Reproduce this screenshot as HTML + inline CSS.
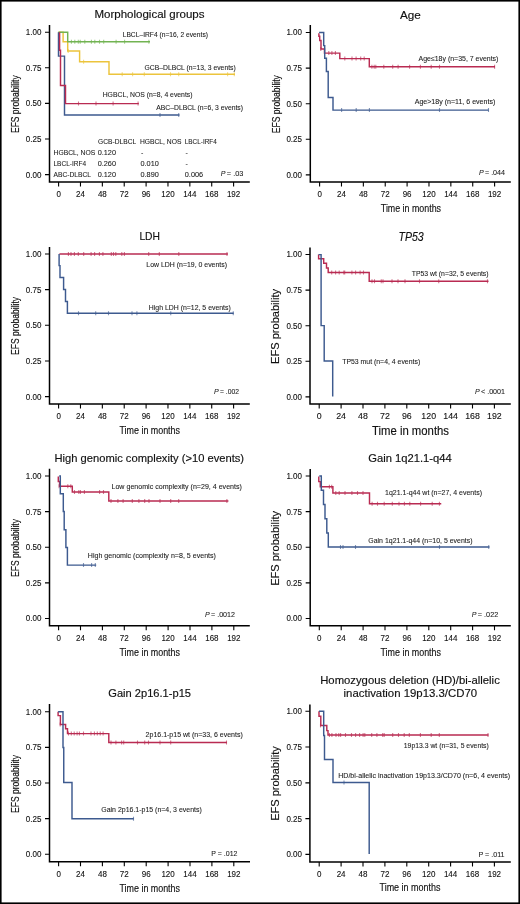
<!DOCTYPE html>
<html><head><meta charset="utf-8"><title>EFS curves</title>
<style>
html,body{margin:0;padding:0;background:#fff;}
body{width:520px;height:904px;overflow:hidden;}
svg{display:block;font-family:"Liberation Sans", sans-serif;will-change:transform;}
text{fill:#222;}
.t{fill:#111;stroke:#111;stroke-width:0.15px;}
.n{fill:#111;stroke:#111;stroke-width:0.12px;}
.l{fill:#1a1a1a;stroke:#1a1a1a;stroke-width:0.08px;}
</style></head>
<body>
<svg width="520" height="904" viewBox="0 0 520 904">
<rect x="0" y="0" width="520" height="904" fill="#fff"/>
<path d="M49.50 25.00V182.75M48.75 182.00H249.80" fill="none" stroke="#000" stroke-width="1.5"/>
<text x="41.40" y="35.10" font-size="9.5" text-anchor="end" textLength="15.60" lengthAdjust="spacingAndGlyphs" class="n">1.00</text>
<text x="41.40" y="70.70" font-size="9.5" text-anchor="end" textLength="15.60" lengthAdjust="spacingAndGlyphs" class="n">0.75</text>
<text x="41.40" y="106.30" font-size="9.5" text-anchor="end" textLength="15.60" lengthAdjust="spacingAndGlyphs" class="n">0.50</text>
<text x="41.40" y="141.90" font-size="9.5" text-anchor="end" textLength="15.60" lengthAdjust="spacingAndGlyphs" class="n">0.25</text>
<text x="41.40" y="177.50" font-size="9.5" text-anchor="end" textLength="15.60" lengthAdjust="spacingAndGlyphs" class="n">0.00</text>
<text x="58.60" y="197.00" font-size="9.5" text-anchor="middle" textLength="4.45" lengthAdjust="spacingAndGlyphs" class="n">0</text>
<text x="80.47" y="197.00" font-size="9.5" text-anchor="middle" textLength="8.90" lengthAdjust="spacingAndGlyphs" class="n">24</text>
<text x="102.35" y="197.00" font-size="9.5" text-anchor="middle" textLength="8.90" lengthAdjust="spacingAndGlyphs" class="n">48</text>
<text x="124.22" y="197.00" font-size="9.5" text-anchor="middle" textLength="8.90" lengthAdjust="spacingAndGlyphs" class="n">72</text>
<text x="146.10" y="197.00" font-size="9.5" text-anchor="middle" textLength="8.90" lengthAdjust="spacingAndGlyphs" class="n">96</text>
<text x="167.97" y="197.00" font-size="9.5" text-anchor="middle" textLength="13.35" lengthAdjust="spacingAndGlyphs" class="n">120</text>
<text x="189.85" y="197.00" font-size="9.5" text-anchor="middle" textLength="13.35" lengthAdjust="spacingAndGlyphs" class="n">144</text>
<text x="211.72" y="197.00" font-size="9.5" text-anchor="middle" textLength="13.35" lengthAdjust="spacingAndGlyphs" class="n">168</text>
<text x="233.60" y="197.00" font-size="9.5" text-anchor="middle" textLength="13.35" lengthAdjust="spacingAndGlyphs" class="n">192</text>
<path d="M45.00 32.20H49.50M45.00 67.80H49.50M45.00 103.40H49.50M45.00 139.00H49.50M45.00 174.60H49.50M58.60 182.00V186.50M80.47 182.00V186.50M102.35 182.00V186.50M124.22 182.00V186.50M146.10 182.00V186.50M167.97 182.00V186.50M189.85 182.00V186.50M211.72 182.00V186.50M233.60 182.00V186.50" fill="none" stroke="#000" stroke-width="1.1"/>
<text x="94.50" y="17.90" font-size="10.5" textLength="110.00" lengthAdjust="spacingAndGlyphs" class="t">Morphological groups</text>
<text transform="translate(19.00,104.20) rotate(-90)" x="0" y="0" font-size="11" text-anchor="middle" textLength="57.70" lengthAdjust="spacingAndGlyphs" class="t">EFS probability</text>
<path d="M58.50 32.20H63.10V41.80H67.70V50.90H79.60V61.80H109.00V74.30H235.00" fill="none" stroke="#ecc43c" stroke-width="1.45" stroke-linejoin="miter" stroke-linecap="butt"/>
<path d="M68.20 48.90v4.00" fill="none" stroke="#ecc43c" stroke-width="1.1" stroke-opacity="0.65"/>
<path d="M83.60 59.80v4.00" fill="none" stroke="#ecc43c" stroke-width="1.1" stroke-opacity="0.65"/>
<path d="M122.20 72.30v4.00 M132.60 72.30v4.00 M144.30 72.30v4.00 M170.50 72.30v4.00 M178.70 72.30v4.00 M227.60 72.30v4.00 M234.30 72.30v4.00" fill="none" stroke="#ecc43c" stroke-width="1.1" stroke-opacity="0.65"/>
<path d="M58.50 32.20H67.70V41.80H150.00" fill="none" stroke="#72b352" stroke-width="1.45" stroke-linejoin="miter" stroke-linecap="butt"/>
<path d="M71.40 39.80v4.00 M74.80 39.80v4.00 M78.30 39.80v4.00 M80.20 39.80v4.00 M84.80 39.80v4.00 M91.40 39.80v4.00 M94.80 39.80v4.00 M99.50 39.80v4.00 M103.70 39.80v4.00 M116.10 39.80v4.00 M124.60 39.80v4.00 M148.90 39.80v4.00" fill="none" stroke="#72b352" stroke-width="1.1" stroke-opacity="0.65"/>
<path d="M58.50 32.20V56.10H64.50V115.00H179.50" fill="none" stroke="#3d5a8f" stroke-width="1.45" stroke-linejoin="miter" stroke-linecap="butt"/>
<path d="M160.00 113.00v4.00 M178.75 113.00v4.00" fill="none" stroke="#3d5a8f" stroke-width="1.1" stroke-opacity="0.65"/>
<path d="M59.60 32.20V50.30H60.50V85.40H65.50V103.60H138.80" fill="none" stroke="#b92b52" stroke-width="1.45" stroke-linejoin="miter" stroke-linecap="butt"/>
<path d="M78.50 101.60v4.00 M96.00 101.60v4.00 M113.10 101.60v4.00 M138.10 101.60v4.00" fill="none" stroke="#b92b52" stroke-width="1.1" stroke-opacity="0.65"/>
<text x="122.70" y="37.10" font-size="7" textLength="85.30" lengthAdjust="spacingAndGlyphs" class="l">LBCL–IRF4 (n=16, 2 events)</text>
<text x="144.50" y="70.00" font-size="7" textLength="91.20" lengthAdjust="spacingAndGlyphs" class="l">GCB–DLBCL (n=13, 3 events)</text>
<text x="102.70" y="97.00" font-size="7" textLength="89.80" lengthAdjust="spacingAndGlyphs" class="l">HGBCL, NOS (n=8, 4 events)</text>
<text x="156.30" y="110.00" font-size="7" textLength="86.70" lengthAdjust="spacingAndGlyphs" class="l">ABC–DLBCL (n=6, 3 events)</text>
<text x="98.10" y="143.50" font-size="7" textLength="38.10" lengthAdjust="spacingAndGlyphs" class="l">GCB-DLBCL</text>
<text x="139.90" y="143.50" font-size="7" textLength="41.50" lengthAdjust="spacingAndGlyphs" class="l">HGBCL, NOS</text>
<text x="184.80" y="143.50" font-size="7" textLength="32.00" lengthAdjust="spacingAndGlyphs" class="l">LBCL-IRF4</text>
<text x="53.50" y="154.80" font-size="7" textLength="41.70" lengthAdjust="spacingAndGlyphs" class="l">HGBCL, NOS</text>
<text x="97.70" y="154.80" font-size="7" textLength="18.30" lengthAdjust="spacingAndGlyphs" class="l">0.120</text>
<text x="141.10" y="154.80" font-size="7" class="l">-</text>
<text x="185.40" y="154.80" font-size="7" class="l">-</text>
<text x="53.50" y="166.10" font-size="7" textLength="32.50" lengthAdjust="spacingAndGlyphs" class="l">LBCL-IRF4</text>
<text x="97.70" y="166.10" font-size="7" textLength="18.30" lengthAdjust="spacingAndGlyphs" class="l">0.260</text>
<text x="140.50" y="166.10" font-size="7" textLength="18.30" lengthAdjust="spacingAndGlyphs" class="l">0.010</text>
<text x="185.40" y="166.10" font-size="7" class="l">-</text>
<text x="53.50" y="177.40" font-size="7" textLength="37.50" lengthAdjust="spacingAndGlyphs" class="l">ABC-DLBCL</text>
<text x="97.70" y="177.40" font-size="7" textLength="18.30" lengthAdjust="spacingAndGlyphs" class="l">0.120</text>
<text x="140.50" y="177.40" font-size="7" textLength="18.30" lengthAdjust="spacingAndGlyphs" class="l">0.890</text>
<text x="184.80" y="177.40" font-size="7" textLength="18.30" lengthAdjust="spacingAndGlyphs" class="l">0.006</text>
<text x="220.80" y="175.60" font-size="7" font-style="italic" class="l">P</text>
<text x="226.80" y="175.60" font-size="7" textLength="16.60" lengthAdjust="spacingAndGlyphs" class="l">= .03</text>
<path d="M310.30 25.00V182.75M309.55 182.00H510.80" fill="none" stroke="#000" stroke-width="1.5"/>
<text x="302.00" y="35.40" font-size="9.5" text-anchor="end" textLength="15.60" lengthAdjust="spacingAndGlyphs" class="n">1.00</text>
<text x="302.00" y="71.00" font-size="9.5" text-anchor="end" textLength="15.60" lengthAdjust="spacingAndGlyphs" class="n">0.75</text>
<text x="302.00" y="106.60" font-size="9.5" text-anchor="end" textLength="15.60" lengthAdjust="spacingAndGlyphs" class="n">0.50</text>
<text x="302.00" y="142.20" font-size="9.5" text-anchor="end" textLength="15.60" lengthAdjust="spacingAndGlyphs" class="n">0.25</text>
<text x="302.00" y="177.80" font-size="9.5" text-anchor="end" textLength="15.60" lengthAdjust="spacingAndGlyphs" class="n">0.00</text>
<text x="319.60" y="197.00" font-size="9.5" text-anchor="middle" textLength="4.45" lengthAdjust="spacingAndGlyphs" class="n">0</text>
<text x="341.48" y="197.00" font-size="9.5" text-anchor="middle" textLength="8.90" lengthAdjust="spacingAndGlyphs" class="n">24</text>
<text x="363.35" y="197.00" font-size="9.5" text-anchor="middle" textLength="8.90" lengthAdjust="spacingAndGlyphs" class="n">48</text>
<text x="385.23" y="197.00" font-size="9.5" text-anchor="middle" textLength="8.90" lengthAdjust="spacingAndGlyphs" class="n">72</text>
<text x="407.10" y="197.00" font-size="9.5" text-anchor="middle" textLength="8.90" lengthAdjust="spacingAndGlyphs" class="n">96</text>
<text x="428.98" y="197.00" font-size="9.5" text-anchor="middle" textLength="13.35" lengthAdjust="spacingAndGlyphs" class="n">120</text>
<text x="450.85" y="197.00" font-size="9.5" text-anchor="middle" textLength="13.35" lengthAdjust="spacingAndGlyphs" class="n">144</text>
<text x="472.73" y="197.00" font-size="9.5" text-anchor="middle" textLength="13.35" lengthAdjust="spacingAndGlyphs" class="n">168</text>
<text x="494.60" y="197.00" font-size="9.5" text-anchor="middle" textLength="13.35" lengthAdjust="spacingAndGlyphs" class="n">192</text>
<path d="M305.80 32.50H310.30M305.80 68.10H310.30M305.80 103.70H310.30M305.80 139.30H310.30M305.80 174.90H310.30M319.60 182.00V186.50M341.48 182.00V186.50M363.35 182.00V186.50M385.23 182.00V186.50M407.10 182.00V186.50M428.98 182.00V186.50M450.85 182.00V186.50M472.73 182.00V186.50M494.60 182.00V186.50" fill="none" stroke="#000" stroke-width="1.1"/>
<text x="400.00" y="18.50" font-size="10.5" textLength="20.80" lengthAdjust="spacingAndGlyphs" class="t">Age</text>
<text transform="translate(279.70,104.20) rotate(-90)" x="0" y="0" font-size="11" text-anchor="middle" textLength="58.20" lengthAdjust="spacingAndGlyphs" class="t">EFS probability</text>
<text x="380.80" y="212.00" font-size="10.5" textLength="60.20" lengthAdjust="spacingAndGlyphs" class="t">Time in months</text>
<path d="M318.90 33.20V36.30H319.70V40.40H321.00V48.90H324.50V53.10H339.80V58.60H369.30V66.80H495.00" fill="none" stroke="#b92b52" stroke-width="1.45" stroke-linejoin="miter" stroke-linecap="butt"/>
<path d="M320.80 46.90v4.00" fill="none" stroke="#b92b52" stroke-width="1.1" stroke-opacity="0.65"/>
<path d="M328.80 51.10v4.00 M331.90 51.10v4.00 M335.40 51.10v4.00" fill="none" stroke="#b92b52" stroke-width="1.1" stroke-opacity="0.65"/>
<path d="M344.80 56.60v4.00 M352.00 56.60v4.00 M356.10 56.60v4.00 M360.70 56.60v4.00 M364.20 56.60v4.00" fill="none" stroke="#b92b52" stroke-width="1.1" stroke-opacity="0.65"/>
<path d="M371.90 64.80v4.00 M374.20 64.80v4.00 M375.80 64.80v4.00 M383.80 64.80v4.00 M392.70 64.80v4.00 M398.10 64.80v4.00 M409.60 64.80v4.00 M420.40 64.80v4.00 M431.20 64.80v4.00 M439.50 64.80v4.00 M494.60 64.80v4.00" fill="none" stroke="#b92b52" stroke-width="1.1" stroke-opacity="0.65"/>
<path d="M319.10 32.40H323.70V45.60H324.70V58.30H326.40V71.40H328.20V97.40H333.00V110.10H488.70" fill="none" stroke="#3d5a8f" stroke-width="1.45" stroke-linejoin="miter" stroke-linecap="butt"/>
<path d="M341.60 108.10v4.00 M356.20 108.10v4.00 M369.40 108.10v4.00 M439.50 108.10v4.00 M488.50 108.10v4.00" fill="none" stroke="#3d5a8f" stroke-width="1.1" stroke-opacity="0.65"/>
<text x="418.50" y="61.10" font-size="7" textLength="79.90" lengthAdjust="spacingAndGlyphs" class="l">Age≤18y (n=35, 7 events)</text>
<text x="414.70" y="104.30" font-size="7" textLength="80.60" lengthAdjust="spacingAndGlyphs" class="l">Age&gt;18y (n=11, 6 events)</text>
<text x="479.00" y="174.60" font-size="7" font-style="italic" class="l">P</text>
<text x="485.00" y="174.60" font-size="7" textLength="20.00" lengthAdjust="spacingAndGlyphs" class="l">= .044</text>
<path d="M49.50 247.00V404.75M48.75 404.00H249.80" fill="none" stroke="#000" stroke-width="1.5"/>
<text x="41.40" y="256.90" font-size="9.5" text-anchor="end" textLength="15.60" lengthAdjust="spacingAndGlyphs" class="n">1.00</text>
<text x="41.40" y="292.55" font-size="9.5" text-anchor="end" textLength="15.60" lengthAdjust="spacingAndGlyphs" class="n">0.75</text>
<text x="41.40" y="328.20" font-size="9.5" text-anchor="end" textLength="15.60" lengthAdjust="spacingAndGlyphs" class="n">0.50</text>
<text x="41.40" y="363.85" font-size="9.5" text-anchor="end" textLength="15.60" lengthAdjust="spacingAndGlyphs" class="n">0.25</text>
<text x="41.40" y="399.50" font-size="9.5" text-anchor="end" textLength="15.60" lengthAdjust="spacingAndGlyphs" class="n">0.00</text>
<text x="58.60" y="419.00" font-size="9.5" text-anchor="middle" textLength="4.45" lengthAdjust="spacingAndGlyphs" class="n">0</text>
<text x="80.47" y="419.00" font-size="9.5" text-anchor="middle" textLength="8.90" lengthAdjust="spacingAndGlyphs" class="n">24</text>
<text x="102.35" y="419.00" font-size="9.5" text-anchor="middle" textLength="8.90" lengthAdjust="spacingAndGlyphs" class="n">48</text>
<text x="124.22" y="419.00" font-size="9.5" text-anchor="middle" textLength="8.90" lengthAdjust="spacingAndGlyphs" class="n">72</text>
<text x="146.10" y="419.00" font-size="9.5" text-anchor="middle" textLength="8.90" lengthAdjust="spacingAndGlyphs" class="n">96</text>
<text x="167.97" y="419.00" font-size="9.5" text-anchor="middle" textLength="13.35" lengthAdjust="spacingAndGlyphs" class="n">120</text>
<text x="189.85" y="419.00" font-size="9.5" text-anchor="middle" textLength="13.35" lengthAdjust="spacingAndGlyphs" class="n">144</text>
<text x="211.72" y="419.00" font-size="9.5" text-anchor="middle" textLength="13.35" lengthAdjust="spacingAndGlyphs" class="n">168</text>
<text x="233.60" y="419.00" font-size="9.5" text-anchor="middle" textLength="13.35" lengthAdjust="spacingAndGlyphs" class="n">192</text>
<path d="M45.00 254.00H49.50M45.00 289.65H49.50M45.00 325.30H49.50M45.00 360.95H49.50M45.00 396.60H49.50M58.60 404.00V408.50M80.47 404.00V408.50M102.35 404.00V408.50M124.22 404.00V408.50M146.10 404.00V408.50M167.97 404.00V408.50M189.85 404.00V408.50M211.72 404.00V408.50M233.60 404.00V408.50" fill="none" stroke="#000" stroke-width="1.1"/>
<text x="139.40" y="239.80" font-size="10.5" textLength="20.60" lengthAdjust="spacingAndGlyphs" class="t">LDH</text>
<text transform="translate(18.90,325.90) rotate(-90)" x="0" y="0" font-size="11" text-anchor="middle" textLength="58.00" lengthAdjust="spacingAndGlyphs" class="t">EFS probability</text>
<text x="119.50" y="433.50" font-size="10.5" textLength="60.50" lengthAdjust="spacingAndGlyphs" class="t">Time in months</text>
<path d="M59.40 253.90H227.90" fill="none" stroke="#b92b52" stroke-width="1.45" stroke-linejoin="miter" stroke-linecap="butt"/>
<path d="M68.40 251.90v4.00 M71.00 251.90v4.00 M74.40 251.90v4.00 M78.30 251.90v4.00 M83.70 251.90v4.00 M91.10 251.90v4.00 M94.60 251.90v4.00 M99.40 251.90v4.00 M102.90 251.90v4.00 M111.30 251.90v4.00 M113.50 251.90v4.00 M115.80 251.90v4.00 M121.80 251.90v4.00 M124.40 251.90v4.00 M148.70 251.90v4.00 M159.30 251.90v4.00 M178.80 251.90v4.00 M227.00 251.90v4.00" fill="none" stroke="#b92b52" stroke-width="1.1" stroke-opacity="0.65"/>
<path d="M59.10 254.00V265.60H60.00V277.40H63.60V289.40H65.50V301.40H67.40V313.30H233.70" fill="none" stroke="#3d5a8f" stroke-width="1.45" stroke-linejoin="miter" stroke-linecap="butt"/>
<path d="M78.50 311.30v4.00 M95.70 311.30v4.00 M108.50 311.30v4.00 M132.00 311.30v4.00 M136.90 311.30v4.00 M170.75 311.30v4.00 M233.25 311.30v4.00" fill="none" stroke="#3d5a8f" stroke-width="1.1" stroke-opacity="0.65"/>
<text x="146.30" y="266.80" font-size="7" textLength="80.70" lengthAdjust="spacingAndGlyphs" class="l">Low LDH (n=19, 0 events)</text>
<text x="148.80" y="310.00" font-size="7" textLength="82.00" lengthAdjust="spacingAndGlyphs" class="l">High LDH (n=12, 5 events)</text>
<text x="214.00" y="393.50" font-size="7" font-style="italic" class="l">P</text>
<text x="220.00" y="393.50" font-size="7" textLength="19.00" lengthAdjust="spacingAndGlyphs" class="l">= .002</text>
<path d="M310.00 247.50V404.75M309.25 404.00H510.80" fill="none" stroke="#000" stroke-width="1.5"/>
<text x="302.00" y="257.40" font-size="9.5" text-anchor="end" textLength="15.60" lengthAdjust="spacingAndGlyphs" class="n">1.00</text>
<text x="302.00" y="293.00" font-size="9.5" text-anchor="end" textLength="15.60" lengthAdjust="spacingAndGlyphs" class="n">0.75</text>
<text x="302.00" y="328.60" font-size="9.5" text-anchor="end" textLength="15.60" lengthAdjust="spacingAndGlyphs" class="n">0.50</text>
<text x="302.00" y="364.20" font-size="9.5" text-anchor="end" textLength="15.60" lengthAdjust="spacingAndGlyphs" class="n">0.25</text>
<text x="302.00" y="399.80" font-size="9.5" text-anchor="end" textLength="15.60" lengthAdjust="spacingAndGlyphs" class="n">0.00</text>
<text x="319.20" y="419.00" font-size="9.5" text-anchor="middle" textLength="4.90" lengthAdjust="spacingAndGlyphs" class="n">0</text>
<text x="341.10" y="419.00" font-size="9.5" text-anchor="middle" textLength="9.79" lengthAdjust="spacingAndGlyphs" class="n">24</text>
<text x="363.00" y="419.00" font-size="9.5" text-anchor="middle" textLength="9.79" lengthAdjust="spacingAndGlyphs" class="n">48</text>
<text x="384.90" y="419.00" font-size="9.5" text-anchor="middle" textLength="9.79" lengthAdjust="spacingAndGlyphs" class="n">72</text>
<text x="406.80" y="419.00" font-size="9.5" text-anchor="middle" textLength="9.79" lengthAdjust="spacingAndGlyphs" class="n">96</text>
<text x="428.70" y="419.00" font-size="9.5" text-anchor="middle" textLength="14.69" lengthAdjust="spacingAndGlyphs" class="n">120</text>
<text x="450.60" y="419.00" font-size="9.5" text-anchor="middle" textLength="14.69" lengthAdjust="spacingAndGlyphs" class="n">144</text>
<text x="472.50" y="419.00" font-size="9.5" text-anchor="middle" textLength="14.69" lengthAdjust="spacingAndGlyphs" class="n">168</text>
<text x="494.40" y="419.00" font-size="9.5" text-anchor="middle" textLength="14.69" lengthAdjust="spacingAndGlyphs" class="n">192</text>
<path d="M305.50 254.50H310.00M305.50 290.10H310.00M305.50 325.70H310.00M305.50 361.30H310.00M305.50 396.90H310.00M319.20 404.00V408.50M341.10 404.00V408.50M363.00 404.00V408.50M384.90 404.00V408.50M406.80 404.00V408.50M428.70 404.00V408.50M450.60 404.00V408.50M472.50 404.00V408.50M494.40 404.00V408.50" fill="none" stroke="#000" stroke-width="1.1"/>
<text x="398.50" y="240.60" font-size="12" textLength="25.20" lengthAdjust="spacingAndGlyphs" font-style="italic" class="t">TP53</text>
<text transform="translate(279.10,326.40) rotate(-90)" x="0" y="0" font-size="11.5" text-anchor="middle" textLength="75.00" lengthAdjust="spacingAndGlyphs" class="t">EFS probability</text>
<text x="372.00" y="434.50" font-size="12.5" textLength="77.00" lengthAdjust="spacingAndGlyphs" class="t">Time in months</text>
<path d="M318.60 254.60V258.70H323.70V263.30H326.50V267.90H328.20V272.50H369.20V281.30H488.50" fill="none" stroke="#b92b52" stroke-width="1.45" stroke-linejoin="miter" stroke-linecap="butt"/>
<path d="M331.70 270.50v4.00 M335.60 270.50v4.00 M339.20 270.50v4.00 M343.80 270.50v4.00 M344.70 270.50v4.00 M351.90 270.50v4.00 M355.60 270.50v4.00 M360.10 270.50v4.00 M363.50 270.50v4.00" fill="none" stroke="#b92b52" stroke-width="1.1" stroke-opacity="0.65"/>
<path d="M372.00 279.30v4.00 M374.50 279.30v4.00 M381.25 279.30v4.00 M383.00 279.30v4.00 M392.00 279.30v4.00 M398.00 279.30v4.00 M405.00 279.30v4.00 M419.50 279.30v4.00 M438.75 279.30v4.00 M487.50 279.30v4.00" fill="none" stroke="#b92b52" stroke-width="1.1" stroke-opacity="0.65"/>
<path d="M318.60 254.60H321.10V325.60H324.20V361.00H332.70V396.50" fill="none" stroke="#3d5a8f" stroke-width="1.45" stroke-linejoin="miter" stroke-linecap="butt"/>
<text x="411.70" y="275.70" font-size="7" textLength="76.90" lengthAdjust="spacingAndGlyphs" class="l">TP53 wt (n=32, 5 events)</text>
<text x="342.20" y="363.50" font-size="7" textLength="78.00" lengthAdjust="spacingAndGlyphs" class="l">TP53 mut (n=4, 4 events)</text>
<text x="475.00" y="393.50" font-size="7" font-style="italic" class="l">P</text>
<text x="481.00" y="393.50" font-size="7" textLength="24.00" lengthAdjust="spacingAndGlyphs" class="l">&lt; .0001</text>
<path d="M49.50 468.80V626.45M48.75 625.70H249.80" fill="none" stroke="#000" stroke-width="1.5"/>
<text x="41.40" y="478.90" font-size="9.5" text-anchor="end" textLength="15.60" lengthAdjust="spacingAndGlyphs" class="n">1.00</text>
<text x="41.40" y="514.52" font-size="9.5" text-anchor="end" textLength="15.60" lengthAdjust="spacingAndGlyphs" class="n">0.75</text>
<text x="41.40" y="550.15" font-size="9.5" text-anchor="end" textLength="15.60" lengthAdjust="spacingAndGlyphs" class="n">0.50</text>
<text x="41.40" y="585.77" font-size="9.5" text-anchor="end" textLength="15.60" lengthAdjust="spacingAndGlyphs" class="n">0.25</text>
<text x="41.40" y="621.40" font-size="9.5" text-anchor="end" textLength="15.60" lengthAdjust="spacingAndGlyphs" class="n">0.00</text>
<text x="58.60" y="641.00" font-size="9.5" text-anchor="middle" textLength="4.45" lengthAdjust="spacingAndGlyphs" class="n">0</text>
<text x="80.50" y="641.00" font-size="9.5" text-anchor="middle" textLength="8.90" lengthAdjust="spacingAndGlyphs" class="n">24</text>
<text x="102.40" y="641.00" font-size="9.5" text-anchor="middle" textLength="8.90" lengthAdjust="spacingAndGlyphs" class="n">48</text>
<text x="124.30" y="641.00" font-size="9.5" text-anchor="middle" textLength="8.90" lengthAdjust="spacingAndGlyphs" class="n">72</text>
<text x="146.20" y="641.00" font-size="9.5" text-anchor="middle" textLength="8.90" lengthAdjust="spacingAndGlyphs" class="n">96</text>
<text x="168.10" y="641.00" font-size="9.5" text-anchor="middle" textLength="13.35" lengthAdjust="spacingAndGlyphs" class="n">120</text>
<text x="190.00" y="641.00" font-size="9.5" text-anchor="middle" textLength="13.35" lengthAdjust="spacingAndGlyphs" class="n">144</text>
<text x="211.90" y="641.00" font-size="9.5" text-anchor="middle" textLength="13.35" lengthAdjust="spacingAndGlyphs" class="n">168</text>
<text x="233.80" y="641.00" font-size="9.5" text-anchor="middle" textLength="13.35" lengthAdjust="spacingAndGlyphs" class="n">192</text>
<path d="M45.00 476.00H49.50M45.00 511.62H49.50M45.00 547.25H49.50M45.00 582.88H49.50M45.00 618.50H49.50M58.60 625.70V630.20M80.50 625.70V630.20M102.40 625.70V630.20M124.30 625.70V630.20M146.20 625.70V630.20M168.10 625.70V630.20M190.00 625.70V630.20M211.90 625.70V630.20M233.80 625.70V630.20" fill="none" stroke="#000" stroke-width="1.1"/>
<text x="54.50" y="461.90" font-size="10.5" textLength="189.60" lengthAdjust="spacingAndGlyphs" class="t">High genomic complexity (&gt;10 events)</text>
<text transform="translate(18.90,548.00) rotate(-90)" x="0" y="0" font-size="11" text-anchor="middle" textLength="58.00" lengthAdjust="spacingAndGlyphs" class="t">EFS probability</text>
<text x="119.50" y="656.00" font-size="10.5" textLength="60.50" lengthAdjust="spacingAndGlyphs" class="t">Time in months</text>
<path d="M58.30 476.50V481.40H59.60V486.20H72.30V492.00H108.80V501.00H228.40" fill="none" stroke="#b92b52" stroke-width="1.45" stroke-linejoin="miter" stroke-linecap="butt"/>
<path d="M59.10 484.20v4.00 M67.80 484.20v4.00 M70.80 484.20v4.00" fill="none" stroke="#b92b52" stroke-width="1.1" stroke-opacity="0.65"/>
<path d="M74.50 490.00v4.00 M78.80 490.00v4.00 M80.40 490.00v4.00 M84.40 490.00v4.00 M99.60 490.00v4.00 M103.50 490.00v4.00" fill="none" stroke="#b92b52" stroke-width="1.1" stroke-opacity="0.65"/>
<path d="M111.00 499.00v4.00 M117.90 499.00v4.00 M123.10 499.00v4.00 M132.30 499.00v4.00 M138.90 499.00v4.00 M144.70 499.00v4.00 M149.00 499.00v4.00 M160.00 499.00v4.00 M170.70 499.00v4.00 M178.70 499.00v4.00 M226.90 499.00v4.00" fill="none" stroke="#b92b52" stroke-width="1.1" stroke-opacity="0.65"/>
<path d="M59.20 476.00H60.30V493.80H63.30V511.50H64.20V529.70H65.90V547.40H67.40V565.10H96.20" fill="none" stroke="#3d5a8f" stroke-width="1.45" stroke-linejoin="miter" stroke-linecap="butt"/>
<path d="M83.50 563.10v4.00 M91.60 563.10v4.00 M95.30 563.10v4.00" fill="none" stroke="#3d5a8f" stroke-width="1.1" stroke-opacity="0.65"/>
<text x="111.50" y="489.00" font-size="7" textLength="130.40" lengthAdjust="spacingAndGlyphs" class="l">Low genomic complexity (n=29, 4 events)</text>
<text x="87.80" y="558.00" font-size="7" textLength="128.20" lengthAdjust="spacingAndGlyphs" class="l">High genomic (complexity n=8, 5 events)</text>
<text x="205.00" y="617.00" font-size="7" font-style="italic" class="l">P</text>
<text x="211.00" y="617.00" font-size="7" textLength="24.00" lengthAdjust="spacingAndGlyphs" class="l">= .0012</text>
<path d="M310.20 469.00V626.45M309.45 625.70H510.80" fill="none" stroke="#000" stroke-width="1.5"/>
<text x="302.00" y="478.90" font-size="9.5" text-anchor="end" textLength="15.60" lengthAdjust="spacingAndGlyphs" class="n">1.00</text>
<text x="302.00" y="514.52" font-size="9.5" text-anchor="end" textLength="15.60" lengthAdjust="spacingAndGlyphs" class="n">0.75</text>
<text x="302.00" y="550.15" font-size="9.5" text-anchor="end" textLength="15.60" lengthAdjust="spacingAndGlyphs" class="n">0.50</text>
<text x="302.00" y="585.77" font-size="9.5" text-anchor="end" textLength="15.60" lengthAdjust="spacingAndGlyphs" class="n">0.25</text>
<text x="302.00" y="621.40" font-size="9.5" text-anchor="end" textLength="15.60" lengthAdjust="spacingAndGlyphs" class="n">0.00</text>
<text x="319.30" y="641.00" font-size="9.5" text-anchor="middle" textLength="4.45" lengthAdjust="spacingAndGlyphs" class="n">0</text>
<text x="341.20" y="641.00" font-size="9.5" text-anchor="middle" textLength="8.90" lengthAdjust="spacingAndGlyphs" class="n">24</text>
<text x="363.10" y="641.00" font-size="9.5" text-anchor="middle" textLength="8.90" lengthAdjust="spacingAndGlyphs" class="n">48</text>
<text x="385.00" y="641.00" font-size="9.5" text-anchor="middle" textLength="8.90" lengthAdjust="spacingAndGlyphs" class="n">72</text>
<text x="406.90" y="641.00" font-size="9.5" text-anchor="middle" textLength="8.90" lengthAdjust="spacingAndGlyphs" class="n">96</text>
<text x="428.80" y="641.00" font-size="9.5" text-anchor="middle" textLength="13.35" lengthAdjust="spacingAndGlyphs" class="n">120</text>
<text x="450.70" y="641.00" font-size="9.5" text-anchor="middle" textLength="13.35" lengthAdjust="spacingAndGlyphs" class="n">144</text>
<text x="472.60" y="641.00" font-size="9.5" text-anchor="middle" textLength="13.35" lengthAdjust="spacingAndGlyphs" class="n">168</text>
<text x="494.50" y="641.00" font-size="9.5" text-anchor="middle" textLength="13.35" lengthAdjust="spacingAndGlyphs" class="n">192</text>
<path d="M305.70 476.00H310.20M305.70 511.62H310.20M305.70 547.25H310.20M305.70 582.88H310.20M305.70 618.50H310.20M319.30 625.70V630.20M341.20 625.70V630.20M363.10 625.70V630.20M385.00 625.70V630.20M406.90 625.70V630.20M428.80 625.70V630.20M450.70 625.70V630.20M472.60 625.70V630.20M494.50 625.70V630.20" fill="none" stroke="#000" stroke-width="1.1"/>
<text x="368.30" y="461.70" font-size="10.5" textLength="83.40" lengthAdjust="spacingAndGlyphs" class="t">Gain 1q21.1-q44</text>
<text transform="translate(279.10,548.40) rotate(-90)" x="0" y="0" font-size="11.5" text-anchor="middle" textLength="74.70" lengthAdjust="spacingAndGlyphs" class="t">EFS probability</text>
<text x="380.50" y="656.00" font-size="10.5" textLength="60.50" lengthAdjust="spacingAndGlyphs" class="t">Time in months</text>
<path d="M318.80 476.40V481.60H320.30V486.70H332.90V492.90H369.50V503.75H441.25" fill="none" stroke="#b92b52" stroke-width="1.45" stroke-linejoin="miter" stroke-linecap="butt"/>
<path d="M329.40 484.70v4.00 M331.70 484.70v4.00" fill="none" stroke="#b92b52" stroke-width="1.1" stroke-opacity="0.65"/>
<path d="M335.80 490.90v4.00 M339.20 490.90v4.00 M345.00 490.90v4.00 M351.90 490.90v4.00 M357.50 490.90v4.00 M363.00 490.90v4.00" fill="none" stroke="#b92b52" stroke-width="1.1" stroke-opacity="0.65"/>
<path d="M372.10 501.75v4.00 M377.50 501.75v4.00 M384.20 501.75v4.00 M392.30 501.75v4.00 M399.00 501.75v4.00 M404.40 501.75v4.00 M409.80 501.75v4.00 M420.60 501.75v4.00 M432.20 501.75v4.00 M439.40 501.75v4.00" fill="none" stroke="#b92b52" stroke-width="1.1" stroke-opacity="0.65"/>
<path d="M319.30 475.90H321.30V490.20H323.50V504.50H325.00V518.70H326.80V533.00H328.30V547.00H489.50" fill="none" stroke="#3d5a8f" stroke-width="1.45" stroke-linejoin="miter" stroke-linecap="butt"/>
<path d="M340.50 545.00v4.00 M343.00 545.00v4.00 M355.50 545.00v4.00 M439.50 545.00v4.00 M488.75 545.00v4.00" fill="none" stroke="#3d5a8f" stroke-width="1.1" stroke-opacity="0.65"/>
<text x="385.00" y="495.00" font-size="7" textLength="97.00" lengthAdjust="spacingAndGlyphs" class="l">1q21.1-q44 wt (n=27, 4 events)</text>
<text x="368.30" y="542.50" font-size="7" textLength="104.20" lengthAdjust="spacingAndGlyphs" class="l">Gain 1q21.1-q44 (n=10, 5 events)</text>
<text x="471.80" y="617.00" font-size="7" font-style="italic" class="l">P</text>
<text x="477.80" y="617.00" font-size="7" textLength="20.50" lengthAdjust="spacingAndGlyphs" class="l">= .022</text>
<path d="M49.50 704.10V862.55M48.75 861.80H250.00" fill="none" stroke="#000" stroke-width="1.5"/>
<text x="41.40" y="714.65" font-size="9.5" text-anchor="end" textLength="15.60" lengthAdjust="spacingAndGlyphs" class="n">1.00</text>
<text x="41.40" y="750.27" font-size="9.5" text-anchor="end" textLength="15.60" lengthAdjust="spacingAndGlyphs" class="n">0.75</text>
<text x="41.40" y="785.90" font-size="9.5" text-anchor="end" textLength="15.60" lengthAdjust="spacingAndGlyphs" class="n">0.50</text>
<text x="41.40" y="821.52" font-size="9.5" text-anchor="end" textLength="15.60" lengthAdjust="spacingAndGlyphs" class="n">0.25</text>
<text x="41.40" y="857.15" font-size="9.5" text-anchor="end" textLength="15.60" lengthAdjust="spacingAndGlyphs" class="n">0.00</text>
<text x="58.60" y="877.00" font-size="9.5" text-anchor="middle" textLength="4.45" lengthAdjust="spacingAndGlyphs" class="n">0</text>
<text x="80.50" y="877.00" font-size="9.5" text-anchor="middle" textLength="8.90" lengthAdjust="spacingAndGlyphs" class="n">24</text>
<text x="102.40" y="877.00" font-size="9.5" text-anchor="middle" textLength="8.90" lengthAdjust="spacingAndGlyphs" class="n">48</text>
<text x="124.30" y="877.00" font-size="9.5" text-anchor="middle" textLength="8.90" lengthAdjust="spacingAndGlyphs" class="n">72</text>
<text x="146.20" y="877.00" font-size="9.5" text-anchor="middle" textLength="8.90" lengthAdjust="spacingAndGlyphs" class="n">96</text>
<text x="168.10" y="877.00" font-size="9.5" text-anchor="middle" textLength="13.35" lengthAdjust="spacingAndGlyphs" class="n">120</text>
<text x="190.00" y="877.00" font-size="9.5" text-anchor="middle" textLength="13.35" lengthAdjust="spacingAndGlyphs" class="n">144</text>
<text x="211.90" y="877.00" font-size="9.5" text-anchor="middle" textLength="13.35" lengthAdjust="spacingAndGlyphs" class="n">168</text>
<text x="233.80" y="877.00" font-size="9.5" text-anchor="middle" textLength="13.35" lengthAdjust="spacingAndGlyphs" class="n">192</text>
<path d="M45.00 711.75H49.50M45.00 747.38H49.50M45.00 783.00H49.50M45.00 818.62H49.50M45.00 854.25H49.50M58.60 861.80V866.30M80.50 861.80V866.30M102.40 861.80V866.30M124.30 861.80V866.30M146.20 861.80V866.30M168.10 861.80V866.30M190.00 861.80V866.30M211.90 861.80V866.30M233.80 861.80V866.30" fill="none" stroke="#000" stroke-width="1.1"/>
<text x="108.30" y="696.90" font-size="10.5" textLength="82.70" lengthAdjust="spacingAndGlyphs" class="t">Gain 2p16.1-p15</text>
<text transform="translate(18.90,784.00) rotate(-90)" x="0" y="0" font-size="11" text-anchor="middle" textLength="58.00" lengthAdjust="spacingAndGlyphs" class="t">EFS probability</text>
<text x="119.50" y="892.00" font-size="10.5" textLength="60.50" lengthAdjust="spacingAndGlyphs" class="t">Time in months</text>
<path d="M58.10 711.70V715.60H60.40V724.40H65.60V728.70H67.50V733.60H108.80V742.50H226.90" fill="none" stroke="#b92b52" stroke-width="1.45" stroke-linejoin="miter" stroke-linecap="butt"/>
<path d="M60.20 722.40v4.00" fill="none" stroke="#b92b52" stroke-width="1.1" stroke-opacity="0.65"/>
<path d="M68.50 731.60v4.00 M71.30 731.60v4.00 M74.20 731.60v4.00 M77.10 731.60v4.00 M79.40 731.60v4.00 M83.50 731.60v4.00 M91.00 731.60v4.00 M94.40 731.60v4.00 M97.30 731.60v4.00 M100.20 731.60v4.00 M103.10 731.60v4.00" fill="none" stroke="#b92b52" stroke-width="1.1" stroke-opacity="0.65"/>
<path d="M111.00 740.50v4.00 M115.90 740.50v4.00 M121.60 740.50v4.00 M123.70 740.50v4.00 M137.50 740.50v4.00 M144.70 740.50v4.00 M148.50 740.50v4.00 M160.00 740.50v4.00 M170.70 740.50v4.00 M226.50 740.50v4.00" fill="none" stroke="#b92b52" stroke-width="1.1" stroke-opacity="0.65"/>
<path d="M58.10 711.70H63.00V747.50H63.75V782.50H72.00V818.75H133.75" fill="none" stroke="#3d5a8f" stroke-width="1.45" stroke-linejoin="miter" stroke-linecap="butt"/>
<path d="M133.50 816.75v4.00" fill="none" stroke="#3d5a8f" stroke-width="1.1" stroke-opacity="0.65"/>
<text x="145.60" y="736.90" font-size="7" textLength="97.20" lengthAdjust="spacingAndGlyphs" class="l">2p16.1-p15 wt (n=33, 6 events)</text>
<text x="101.25" y="812.00" font-size="7" textLength="100.50" lengthAdjust="spacingAndGlyphs" class="l">Gain 2p16.1-p15 (n=4, 3 events)</text>
<text x="211.30" y="855.50" font-size="7" textLength="26.20" lengthAdjust="spacingAndGlyphs" class="l">P = .012</text>
<path d="M309.90 704.40V862.75M309.15 862.00H510.80" fill="none" stroke="#000" stroke-width="1.5"/>
<text x="302.00" y="714.20" font-size="9.5" text-anchor="end" textLength="15.60" lengthAdjust="spacingAndGlyphs" class="n">1.00</text>
<text x="302.00" y="749.97" font-size="9.5" text-anchor="end" textLength="15.60" lengthAdjust="spacingAndGlyphs" class="n">0.75</text>
<text x="302.00" y="785.75" font-size="9.5" text-anchor="end" textLength="15.60" lengthAdjust="spacingAndGlyphs" class="n">0.50</text>
<text x="302.00" y="821.52" font-size="9.5" text-anchor="end" textLength="15.60" lengthAdjust="spacingAndGlyphs" class="n">0.25</text>
<text x="302.00" y="857.30" font-size="9.5" text-anchor="end" textLength="15.60" lengthAdjust="spacingAndGlyphs" class="n">0.00</text>
<text x="319.20" y="877.00" font-size="9.5" text-anchor="middle" textLength="4.45" lengthAdjust="spacingAndGlyphs" class="n">0</text>
<text x="341.10" y="877.00" font-size="9.5" text-anchor="middle" textLength="8.90" lengthAdjust="spacingAndGlyphs" class="n">24</text>
<text x="363.00" y="877.00" font-size="9.5" text-anchor="middle" textLength="8.90" lengthAdjust="spacingAndGlyphs" class="n">48</text>
<text x="384.90" y="877.00" font-size="9.5" text-anchor="middle" textLength="8.90" lengthAdjust="spacingAndGlyphs" class="n">72</text>
<text x="406.80" y="877.00" font-size="9.5" text-anchor="middle" textLength="8.90" lengthAdjust="spacingAndGlyphs" class="n">96</text>
<text x="428.70" y="877.00" font-size="9.5" text-anchor="middle" textLength="13.35" lengthAdjust="spacingAndGlyphs" class="n">120</text>
<text x="450.60" y="877.00" font-size="9.5" text-anchor="middle" textLength="13.35" lengthAdjust="spacingAndGlyphs" class="n">144</text>
<text x="472.50" y="877.00" font-size="9.5" text-anchor="middle" textLength="13.35" lengthAdjust="spacingAndGlyphs" class="n">168</text>
<text x="494.40" y="877.00" font-size="9.5" text-anchor="middle" textLength="13.35" lengthAdjust="spacingAndGlyphs" class="n">192</text>
<path d="M305.40 711.30H309.90M305.40 747.07H309.90M305.40 782.85H309.90M305.40 818.62H309.90M305.40 854.40H309.90M319.20 862.00V866.50M341.10 862.00V866.50M363.00 862.00V866.50M384.90 862.00V866.50M406.80 862.00V866.50M428.70 862.00V866.50M450.60 862.00V866.50M472.50 862.00V866.50M494.40 862.00V866.50" fill="none" stroke="#000" stroke-width="1.1"/>
<text x="320.20" y="684.30" font-size="10.5" textLength="179.60" lengthAdjust="spacingAndGlyphs" class="t">Homozygous deletion (HD)/bi-allelic</text>
<text x="343.60" y="696.60" font-size="10.5" textLength="133.50" lengthAdjust="spacingAndGlyphs" class="t">inactivation 19p13.3/CD70</text>
<text transform="translate(279.10,783.50) rotate(-90)" x="0" y="0" font-size="11.5" text-anchor="middle" textLength="74.70" lengthAdjust="spacingAndGlyphs" class="t">EFS probability</text>
<text x="379.50" y="891.00" font-size="10.5" textLength="60.90" lengthAdjust="spacingAndGlyphs" class="t">Time in months</text>
<path d="M319.00 711.30V716.20H320.80V725.40H326.80V730.60H328.00V735.00H488.50" fill="none" stroke="#b92b52" stroke-width="1.45" stroke-linejoin="miter" stroke-linecap="butt"/>
<path d="M320.50 723.40v4.00" fill="none" stroke="#b92b52" stroke-width="1.1" stroke-opacity="0.65"/>
<path d="M329.40 733.00v4.00 M331.90 733.00v4.00 M336.00 733.00v4.00 M338.80 733.00v4.00 M340.60 733.00v4.00 M345.50 733.00v4.00 M351.50 733.00v4.00 M355.60 733.00v4.00 M359.60 733.00v4.00 M363.10 733.00v4.00 M364.80 733.00v4.00 M371.70 733.00v4.00 M376.90 733.00v4.00 M382.70 733.00v4.00 M384.20 733.00v4.00 M392.70 733.00v4.00 M398.50 733.00v4.00 M404.20 733.00v4.00 M409.30 733.00v4.00 M420.40 733.00v4.00 M431.20 733.00v4.00 M439.30 733.00v4.00 M488.00 733.00v4.00" fill="none" stroke="#b92b52" stroke-width="1.1" stroke-opacity="0.65"/>
<path d="M319.00 711.30H323.70V735.50H324.50V759.40H333.00V782.50H369.20V854.00" fill="none" stroke="#3d5a8f" stroke-width="1.45" stroke-linejoin="miter" stroke-linecap="butt"/>
<path d="M344.00 780.50v4.00" fill="none" stroke="#3d5a8f" stroke-width="1.1" stroke-opacity="0.65"/>
<text x="403.80" y="747.50" font-size="7" textLength="85.00" lengthAdjust="spacingAndGlyphs" class="l">19p13.3 wt (n=31, 5 events)</text>
<text x="338.20" y="778.20" font-size="7" textLength="172.00" lengthAdjust="spacingAndGlyphs" class="l">HD/bi-allelic inactivation 19p13.3/CD70 (n=6, 4 events)</text>
<text x="478.40" y="857.30" font-size="7" textLength="26.20" lengthAdjust="spacingAndGlyphs" class="l">P = .011</text>
<rect x="0.8" y="0.8" width="518.4" height="902.4" fill="none" stroke="#000" stroke-width="1.6"/>
</svg>
</body></html>
